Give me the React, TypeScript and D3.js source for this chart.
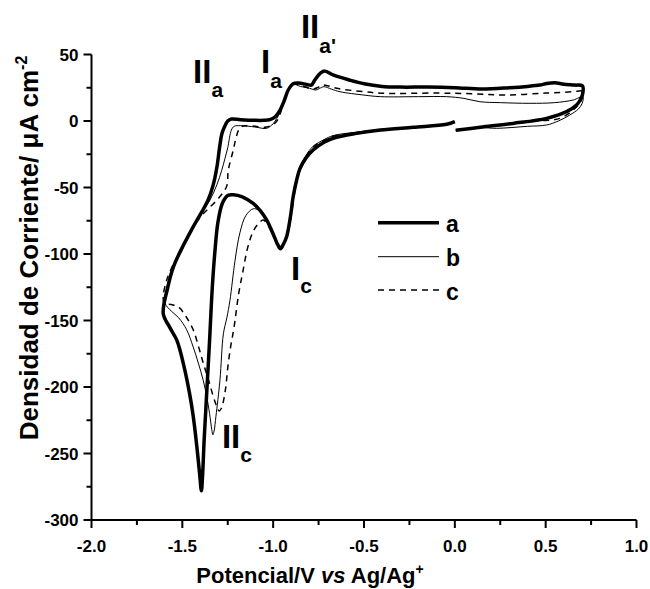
import React from "react";
import * as d3 from "d3";

// Cyclic voltammograms: potential (V vs Ag/Ag+) against current density (µA cm^-2)
type Pt = [number, number];

const curveA: Pt[] = [
  [0.005, -7], [0.14, -4.7], [0.32, -1.8], [0.505, 2], [0.615, 7], [0.67, 12], [0.69, 15.8], [0.703, 20], [0.703, 26.3],
  [0.66, 27], [0.6, 27.6], [0.55, 28.8], [0.5, 28], [0.468, 27], [0.4, 26], [0.3, 25], [0.15, 24], [0.0, 25],
  [-0.15, 25.5], [-0.3, 25.5], [-0.4, 26], [-0.5, 28], [-0.58, 30.8], [-0.67, 34.6], [-0.715, 37.5], [-0.74, 36],
  [-0.77, 31], [-0.79, 27], [-0.816, 27.5], [-0.86, 28.5], [-0.89, 28], [-0.917, 23.3], [-0.94, 15], [-0.963, 8],
  [-0.99, 3], [-1.018, 1], [-1.05, 0.5], [-1.1, 0.5], [-1.18, 1], [-1.23, 1.5], [-1.25, 0], [-1.27, -5],
  [-1.283, -10], [-1.295, -20], [-1.31, -35], [-1.33, -48], [-1.36, -60], [-1.4, -70], [-1.45, -82], [-1.5, -95],
  [-1.55, -110], [-1.58, -125], [-1.605, -145], [-1.57, -155], [-1.53, -165], [-1.49, -185], [-1.46, -205],
  [-1.44, -222], [-1.42, -245], [-1.405, -265], [-1.395, -278], [-1.388, -265], [-1.38, -240], [-1.37, -215],
  [-1.36, -190], [-1.35, -165], [-1.335, -125], [-1.32, -97], [-1.305, -77], [-1.28, -62], [-1.25, -56],
  [-1.22, -55.5], [-1.17, -57], [-1.11, -62], [-1.07, -67.5], [-1.036, -74.4], [-1.0, -85], [-0.975, -93],
  [-0.96, -96], [-0.945, -93], [-0.926, -87], [-0.905, -72], [-0.89, -57], [-0.87, -44], [-0.853, -36],
  [-0.82, -28], [-0.78, -21.8], [-0.72, -16], [-0.67, -13], [-0.55, -9.5], [-0.41, -6.8], [-0.23, -4.7],
  [-0.045, -2.5], [0.0, -0.5],
];

const curveB: Pt[] = [
  [0.005, -7], [0.14, -5], [0.23, -5.5], [0.4, -4], [0.505, -3], [0.57, 0], [0.633, 4.5], [0.68, 9], [0.7, 13],
  [0.705, 18.3], [0.652, 15.8], [0.55, 13.8], [0.413, 13.3], [0.25, 13.8], [0.138, 14.5], [0.05, 17],
  [-0.045, 18.3], [-0.2, 18.3], [-0.41, 18.3], [-0.5, 19.5], [-0.632, 22], [-0.68, 24], [-0.72, 25.8],
  [-0.745, 24.5], [-0.765, 23.3], [-0.8, 24.6], [-0.85, 26], [-0.89, 27.5], [-0.917, 23], [-0.94, 15],
  [-0.96, 7], [-0.98, 2], [-1.0, -2], [-1.036, -5.5], [-1.1, -4.5], [-1.18, -3.5], [-1.215, -4], [-1.23, -6.8],
  [-1.25, -20], [-1.265, -28], [-1.283, -37], [-1.31, -48], [-1.35, -60], [-1.4, -70], [-1.45, -82], [-1.5, -95],
  [-1.55, -110], [-1.585, -125], [-1.595, -137], [-1.56, -143], [-1.52, -148], [-1.476, -157], [-1.44, -170],
  [-1.412, -182], [-1.385, -195], [-1.366, -207], [-1.35, -220], [-1.338, -232], [-1.332, -236], [-1.325, -233],
  [-1.315, -222], [-1.293, -195], [-1.274, -160], [-1.255, -148], [-1.238, -135], [-1.21, -105], [-1.183, -84],
  [-1.15, -71], [-1.11, -66], [-1.08, -67], [-1.05, -71], [-1.02, -79], [-0.99, -88], [-0.965, -95],
  [-0.945, -93], [-0.926, -86], [-0.905, -70], [-0.89, -55], [-0.87, -42], [-0.853, -34], [-0.82, -26],
  [-0.78, -19], [-0.72, -14], [-0.67, -11], [-0.55, -8.5], [-0.41, -6.5], [-0.23, -4.7], [-0.045, -2.3], [0.0, -1],
];

const curveC: Pt[] = [
  [0.005, -7], [0.14, -4.7], [0.32, -2], [0.45, 0], [0.578, 2], [0.652, 8.3], [0.69, 14], [0.705, 20], [0.7, 22.5],
  [0.652, 22], [0.5, 21], [0.284, 19.5], [0.1, 20.5], [-0.1, 21], [-0.394, 20.8], [-0.5, 22], [-0.65, 24.6],
  [-0.7, 26.5], [-0.725, 27], [-0.75, 25.5], [-0.78, 24], [-0.82, 25.5], [-0.86, 27.5], [-0.89, 27.5],
  [-0.917, 23], [-0.94, 15], [-0.96, 6], [-0.98, 0], [-1.0, -2.5], [-1.036, -4.5], [-1.1, -4], [-1.15, -3.5],
  [-1.17, -4], [-1.19, -6.8], [-1.205, -13], [-1.22, -22], [-1.247, -37], [-1.256, -49], [-1.3, -58],
  [-1.35, -65], [-1.4, -72], [-1.45, -82], [-1.495, -95], [-1.55, -108], [-1.587, -120], [-1.605, -132],
  [-1.6, -137], [-1.56, -138], [-1.52, -140], [-1.48, -147], [-1.44, -157], [-1.41, -170], [-1.385, -182],
  [-1.355, -195], [-1.33, -207], [-1.312, -214], [-1.298, -218], [-1.285, -216], [-1.265, -204], [-1.247, -182],
  [-1.232, -168], [-1.22, -159], [-1.21, -150], [-1.19, -130], [-1.165, -112], [-1.14, -95], [-1.11, -83],
  [-1.08, -77], [-1.055, -74.5], [-1.03, -78], [-1.0, -86], [-0.975, -93], [-0.955, -95], [-0.935, -91],
  [-0.915, -82], [-0.895, -66], [-0.88, -52], [-0.86, -40], [-0.82, -27], [-0.78, -19.5], [-0.72, -14.5],
  [-0.67, -11.5], [-0.55, -9], [-0.41, -6.5], [-0.23, -4.7], [-0.045, -2.3], [0.0, -1],
];

const seriesNames = ["a", "b", "c"];

const xMajorTicks = [-2.0, -1.5, -1.0, -0.5, 0.0, 0.5, 1.0];
const xTickLabels = ["-2.0", "-1.5", "-1.0", "-0.5", "0.0", "0.5", "1.0"];
const xMinorTicks = [-1.75, -1.25, -0.75, -0.25, 0.25, 0.75];
const yMajorTicks = [50, 0, -50, -100, -150, -200, -250, -300];
const yTickLabels = ["50", "0", "-50", "-100", "-150", "-200", "-250", "-300"];
const yMinorTicks = [25, -25, -75, -125, -175, -225, -275];

const FONT = "'Liberation Sans', Arial, Helvetica, sans-serif";

export default function App() {
  const x = d3.scaleLinear().domain([-2, 1]).range([91.5, 636.5]);
  const y = d3.scaleLinear().domain([-300, 50]).range([520, 54.5]);
  const line = d3
    .line<Pt>()
    .x((d) => x(d[0]))
    .y((d) => y(d[1]))
    .curve(d3.curveCatmullRom.alpha(0.5));

  const x0 = x(-2);
  const y0 = y(-300);

  const styles = [
    { w: 3.5, dash: undefined as string | undefined },
    { w: 1, dash: undefined as string | undefined },
    { w: 1.5, dash: "6,5" },
  ];
  const legendRows = [222.7, 256.7, 290];

  const peak = (main: string, sub: string, v: number, i: number, dy: number) => (
    <text x={x(v)} y={y(i)} fontSize={33} fontWeight="bold" fontFamily={FONT} fill="#000">
      {main}
      <tspan fontSize={21} dy={dy}>{sub}</tspan>
    </text>
  );

  return (
    <svg
      width={650}
      height={589}
      style={{ position: "absolute", left: 0, top: 0, background: "#fff" }}
    >
      <rect width={650} height={589} fill="#fff" />

      {/* curves */}
      <path d={line(curveC) || ""} fill="none" stroke="#000" strokeWidth={styles[2].w} strokeDasharray={styles[2].dash} />
      <path d={line(curveB) || ""} fill="none" stroke="#000" strokeWidth={styles[1].w} />
      <path d={line(curveA) || ""} fill="none" stroke="#000" strokeWidth={styles[0].w} strokeLinejoin="round" />

      {/* axes */}
      <g stroke="#000" strokeWidth={2} fill="none">
        <line x1={x0} y1={y(50)} x2={x0} y2={y0} />
        <line x1={x0} y1={y0} x2={x(1)} y2={y0} />
        {yMajorTicks.map((t) => (
          <line key={"ym" + t} x1={x0 - 8} x2={x0} y1={y(t)} y2={y(t)} />
        ))}
        {yMinorTicks.map((t) => (
          <line key={"yn" + t} x1={x0 - 5} x2={x0} y1={y(t)} y2={y(t)} />
        ))}
        {xMajorTicks.map((t) => (
          <line key={"xm" + t} x1={x(t)} x2={x(t)} y1={y0} y2={y0 + 8} />
        ))}
        {xMinorTicks.map((t) => (
          <line key={"xn" + t} x1={x(t)} x2={x(t)} y1={y0} y2={y0 + 5} />
        ))}
      </g>
      <g fontFamily={FONT} fontWeight="bold" fontSize={17} fill="#000">
        {yMajorTicks.map((t, i) => (
          <text key={"yl" + t} x={x0 - 13} y={y(t) + 6} textAnchor="end">
            {yTickLabels[i]}
          </text>
        ))}
        {xMajorTicks.map((t, i) => (
          <text key={"xl" + t} x={x(t)} y={y0 + 32} textAnchor="middle">
            {xTickLabels[i]}
          </text>
        ))}
      </g>

      {/* axis titles */}
      <text x={310} y={583} textAnchor="middle" fontFamily={FONT} fontWeight="bold" fontSize={22} fill="#000">
        Potencial/V <tspan fontStyle="italic">vs</tspan> Ag/Ag
        <tspan fontSize={14} dy={-9}>+</tspan>
      </text>
      <text
        transform="translate(38,248) rotate(-90)"
        textAnchor="middle"
        fontFamily={FONT}
        fontWeight="bold"
        fontSize={26}
        fill="#000"
      >
        Densidad de Corriente/ μA cm
        <tspan fontSize={16} dy={-11}>-2</tspan>
      </text>

      {/* peak labels */}
      {peak("II", "a", -1.441, 28.6, 14)}
      {peak("I", "a", -1.067, 36.1, 15)}
      {peak("II", "a'", -0.847, 62.4, 15)}
      {peak("I", "c", -0.902, -119.5, 13)}
      {peak("II", "c", -1.282, -245.5, 14)}

      {/* legend */}
      {seriesNames.map((n, i) => (
        <g key={n}>
          <line
            x1={378}
            x2={439}
            y1={legendRows[i]}
            y2={legendRows[i]}
            stroke="#000"
            strokeWidth={styles[i].w}
            strokeDasharray={styles[i].dash}
          />
          <text x={446} y={legendRows[i] + 9.5} fontFamily={FONT} fontWeight="bold" fontSize={23} fill="#000">
            {n}
          </text>
        </g>
      ))}
    </svg>
  );
}
